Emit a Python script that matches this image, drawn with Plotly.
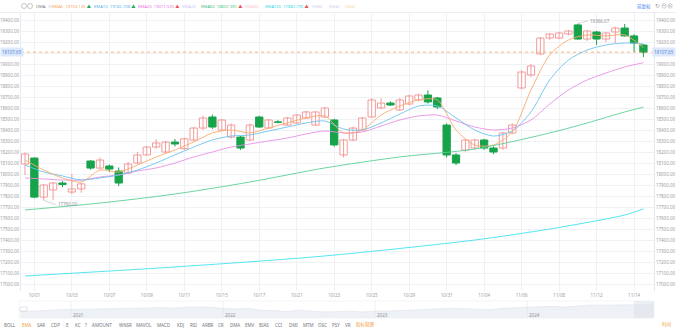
import plotly.graph_objects as go

# ---------------- price bars (two bars per session) ----------------
opens = [18091, 18145, 17790, 17855, 17918, 17836, 17864, 18118, 18054, 18073,
         18027, 18009, 18100, 18173, 18245, 18200, 18290, 18230, 18309, 18418,
         18518, 18400, 18336, 18336, 18309, 18518, 18418, 18473, 18445, 18464,
         18509, 18445, 18518, 18491, 18173, 18309, 18400, 18518, 18600, 18645,
         18582, 18636, 18673, 18718, 18691, 18445, 18173, 18218, 18236, 18309,
         18236, 18236, 18373, 18782, 18900, 19091, 19236, 19236, 19273, 19355,
         19227, 19291, 19227, 19291, 19327, 19255, 19173]
highs = [18195, 18150, 17910, 17925, 17935, 18000, 17920, 18125, 18150, 18085,
         18060, 18110, 18200, 18255, 18318, 18300, 18318, 18330, 18430, 18530,
         18540, 18500, 18460, 18345, 18460, 18530, 18500, 18490, 18520, 18545,
         18575, 18570, 18610, 18500, 18320, 18430, 18520, 18690, 18690, 18660,
         18690, 18720, 18730, 18760, 18700, 18460, 18190, 18320, 18320, 18320,
         18250, 18380, 18460, 18945, 19000, 19245, 19280, 19291, 19310, 19366.07,
         19310, 19300, 19290, 19340, 19364, 19270, 19180]
lows = [17991, 17780, 17760, 17762.15, 17880, 17815, 17830, 18040, 18040, 18020,
        17890, 18000, 18090, 18165, 18230, 18190, 18250, 18220, 18300, 18400,
        18410, 18390, 18320, 18220, 18300, 18420, 18410, 18460, 18440, 18455,
        18500, 18440, 18510, 18250, 18150, 18300, 18390, 18510, 18590, 18620,
        18575, 18625, 18660, 18640, 18590, 18150, 18080, 18200, 18220, 18220,
        18180, 18220, 18360, 18770, 18880, 19080, 19220, 19225, 19260, 19220,
        19210, 19173, 19200, 19191, 19250, 19109, 19064]
closes = [18182, 17790, 17900, 17918, 17905, 17864, 17910, 18054, 18127, 18045,
          17918, 18091, 18173, 18245, 18282, 18290, 18273, 18320, 18418, 18509,
          18427, 18491, 18445, 18236, 18445, 18427, 18491, 18470, 18509, 18536,
          18564, 18564, 18600, 18264, 18309, 18418, 18509, 18673, 18645, 18627,
          18673, 18709, 18718, 18655, 18609, 18173, 18100, 18309, 18309, 18236,
          18200, 18373, 18445, 18927, 18982, 19236, 19273, 19282, 19300, 19227,
          19300, 19227, 19282, 19327, 19255, 19191, 19107.65]
bars = list(range(len(opens)))

date_ticks = [1, 5, 9, 13, 17, 21, 25, 29, 33, 37, 41, 45, 49, 53, 57, 61, 65]
date_labels = ["10/01", "10/03", "10/07", "10/09", "10/11", "10/15", "10/17",
               "10/21", "10/23", "10/25", "10/29", "10/31", "11/04", "11/06",
               "11/08", "11/12", "11/14"]

# ---------------- moving averages ----------------
ema_bars = list(range(0, 67, 2))
ema5 = [18127, 18036, 17964, 17927, 18036, 18018, 18082, 18155, 18218, 18291,
        18373, 18400, 18373, 18418, 18464, 18509, 18527, 18373, 18400, 18536,
        18618, 18673, 18673, 18400, 18264, 18264, 18382, 18764, 19082, 19218,
        19264, 19255, 19264, 19150.135]
ema10 = [18082, 18018, 17982, 17945, 17964, 17991, 18036, 18100, 18173, 18245,
         18309, 18345, 18355, 18391, 18427, 18464, 18482, 18409, 18400, 18464,
         18545, 18618, 18618, 18509, 18400, 18345, 18391, 18564, 18855, 19036,
         19127, 19173, 19191, 19182.708]
ema20 = [17964, 17955, 17945, 17945, 17973, 17991, 18027, 18055, 18100, 18155,
         18200, 18245, 18273, 18300, 18327, 18364, 18391, 18373, 18382, 18436,
         18491, 18527, 18536, 18482, 18427, 18400, 18418, 18491, 18636, 18764,
         18855, 18918, 18973, 19011.535]
slow_bars = [0, 8, 16, 24, 32, 40, 48, 56, 60, 64, 66]
ema60 = [17673, 17736, 17818, 17927, 18055, 18155, 18227, 18373, 18464, 18564,
         18607.391]
ema120_bars = [0, 16, 32, 48, 56, 64, 66]
ema120 = [17073, 17155, 17255, 17400, 17500, 17627, 17682.795]

price_ticks = list(range(17000, 19401, 100))
last_price = 19107.65

# ---------------- overview strip (monthly, 2020-09 .. 2024-11) ----------------
nav_values = [11100, 11300, 12000, 12900,
              13100, 13200, 13200, 13900, 13700, 14500, 14700, 15200, 14500, 15500, 15900, 15600,
              14200, 13700, 14200, 12300, 12000, 11000, 12400, 11800, 10600, 10900, 11400, 10500,
              11600, 11500, 12200, 12200, 12900, 13800, 14300, 14000, 13200, 12900, 14200, 15000,
              15200, 16000, 16400, 15700, 16700, 17700, 17600, 17700, 18200, 18100, 19100]
nav_idx = list(range(len(nav_values)))
year_pos = [4, 16, 28, 40]
year_labels = ["2021", "2022", "2023", "2024"]

W, H = 676, 333
def px(x):
    return x / W
def py(y):
    return (H - y) / H

GRID = "#eff1f4"
AXIS_TXT = "#9a9ea6"
FS = 4.5
UP, DOWN = "#f29b9b", "#17a34a"

fig = go.Figure()

# wicks first so hollow bodies cover them
for keep, col in [(lambda o, c: c >= o, UP), (lambda o, c: c < o, DOWN)]:
    wx, wy = [], []
    for k, o, h, l, c in zip(bars, opens, highs, lows, closes):
        if keep(o, c):
            wx += [k, k, None]
            wy += [l, h, None]
    fig.add_trace(go.Scatter(x=wx, y=wy, mode="lines", line=dict(color=col, width=1),
                             showlegend=False, hoverinfo="skip", xaxis="x", yaxis="y"))

# candle bodies
for keep, fill, col in [(lambda o, c: c >= o, "#ffffff", UP), (lambda o, c: c < o, DOWN, DOWN)]:
    bx, bb, bh = [], [], []
    for k, o, c in zip(bars, opens, closes):
        if keep(o, c):
            bx.append(k)
            bb.append(min(o, c))
            bh.append(max(abs(c - o), 4))
    fig.add_trace(go.Bar(x=bx, y=bh, base=bb, width=0.78,
                         marker=dict(color=fill, line=dict(color=col, width=1)),
                         showlegend=False, hoverinfo="skip", xaxis="x", yaxis="y"))

for xs, ys, col in [(ema_bars, ema20, "#ea8fe4"), (ema_bars, ema10, "#6cc4ee"),
                    (ema_bars, ema5, "#f8ac6c"), (slow_bars, ema60, "#5ccf96"),
                    (ema120_bars, ema120, "#3fe3ef")]:
    fig.add_trace(go.Scatter(x=xs, y=ys, mode="lines",
                             line=dict(color=col, width=0.9, shape="spline", smoothing=0.8),
                             showlegend=False, hoverinfo="skip", xaxis="x", yaxis="y"))

# right-hand price axis carrier
fig.add_trace(go.Scatter(x=[bars[0]], y=[closes[0]], mode="markers", marker=dict(opacity=0),
                         showlegend=False, hoverinfo="skip", xaxis="x", yaxis="y2"))

# overview strip
fig.add_trace(go.Scatter(x=nav_idx, y=nav_values, mode="lines", fill="tozeroy",
                         line=dict(color="#dfe3ea", width=0.6), fillcolor="#eef1f5",
                         showlegend=False, hoverinfo="skip", xaxis="x3", yaxis="y3"))

y_top, y_bot = 13, 291
p_per_px = 100 / 11
yr = [19400 - (y_bot - 20) * p_per_px, 19400 + (20 - y_top) * p_per_px]
x_left, x_right = 21, 654
bar_px = 9.37
xr = [-(25 - x_left) / bar_px, -(25 - x_left) / bar_px + (x_right - x_left) / bar_px]

# the tick sitting under the last-price tag is left blank
ytick_txt = ["" if abs(v - last_price) < 40 else f"{v:.2f}" for v in price_ticks]

fig.update_layout(
    width=W, height=H, margin=dict(l=0, r=0, t=0, b=0),
    paper_bgcolor="white", plot_bgcolor="white", barmode="overlay",
    font=dict(family="Noto Sans, Noto Sans CJK SC, sans-serif", size=FS, color=AXIS_TXT),
    xaxis=dict(domain=[px(x_left), px(x_right)], range=xr, tickmode="array",
               tickvals=date_ticks, ticktext=date_labels, showgrid=True, gridcolor=GRID,
               gridwidth=1, zeroline=False, showline=False, ticks="", tickfont=dict(size=FS),
               anchor="y", fixedrange=True),
    yaxis=dict(domain=[py(y_bot), py(y_top)], range=yr, tickmode="array",
               tickvals=price_ticks, ticktext=ytick_txt, showgrid=True, gridcolor=GRID,
               zeroline=False, showline=True, linecolor="#e6e8ec", linewidth=1, ticks="",
               side="left", tickfont=dict(size=FS), fixedrange=True),
    yaxis2=dict(overlaying="y", range=yr, tickmode="array", tickvals=price_ticks,
                ticktext=ytick_txt, showgrid=False, zeroline=False, showline=True,
                linecolor="#e6e8ec", linewidth=1, side="right", anchor="x",
                tickfont=dict(size=FS), fixedrange=True),
    xaxis3=dict(domain=[px(19), px(654)], range=[-0.1, 50.0], visible=False,
                anchor="y3", fixedrange=True),
    yaxis3=dict(domain=[py(318), py(301)], range=[4300, 21900], visible=False,
                anchor="x3", fixedrange=True),
    showlegend=False,
)

shapes = []
annos = []

# header separator
shapes.append(dict(type="line", xref="paper", yref="paper", x0=0, x1=1,
                   y0=py(12.5), y1=py(12.5), line=dict(color="#eceef1", width=1)))

# last price line and tags
shapes.append(dict(type="line", xref="x domain", yref="y", x0=0, x1=1,
                   y0=last_price, y1=last_price,
                   line=dict(color="#f6a35a", width=0.8, dash="dot")))
for xp, anc in [(0, "left"), (1, "right")]:
    annos.append(dict(xref="paper", yref="y", x=xp, y=last_price, text=f"{last_price:.2f}",
                      showarrow=False, xanchor=anc, yanchor="middle",
                      font=dict(size=FS, color="#4f86d9"), bgcolor="#dde9fb", borderpad=1))

# extreme markers
annos.append(dict(xref="x", yref="y", x=highs.index(max(highs)), y=max(highs),
                  text=f"{max(highs):.2f}", showarrow=True, arrowhead=0, arrowwidth=0.6,
                  arrowcolor="#b5b9c0", ax=10, ay=-3, xanchor="left",
                  font=dict(size=FS, color="#8d9199")))
annos.append(dict(xref="x", yref="y", x=lows.index(min(lows)), y=min(lows),
                  text=f"{min(lows):.2f}", showarrow=True, arrowhead=0, arrowwidth=0.6,
                  arrowcolor="#b5b9c0", ax=12, ay=4, xanchor="left",
                  font=dict(size=FS, color="#8d9199")))

# header legend
HFS = 4.2
hy = py(6)
shapes.append(dict(type="circle", xref="paper", yref="paper", x0=px(21.5), x1=px(26.5),
                   y0=py(8.5), y1=py(3.5), line=dict(color="#9aa0a8", width=0.6)))
shapes.append(dict(type="circle", xref="paper", yref="paper", x0=px(27.5), x1=px(32.5),
                   y0=py(8.5), y1=py(3.5), line=dict(color="#9aa0a8", width=0.6)))
def grp(name, val, col, arrow_col):
    s = f"<span style='color:{col}'>{name}</span>"
    if val:
        s += f"  <span style='color:{col}'>{val}</span> <span style='color:{arrow_col}'>▲</span>"
    return s
header = [
    (34, "<span style='color:#7d828a'>DMA</span>  <span style='color:#9aa0a8'>∨</span>"),
    (50, grp("EMA5", "19150.135", "#f7a35c", "#21a65a")),
    (92, grp("EMA10", "19182.708", "#5bb8ea", "#21a65a")),
    (136, grp("EMA20", "19011.535", "#e676de", "#ee5555")),
    (180, grp("EMA30", "", "#cfc8f2", "")),
    (199, grp("EMA60", "18607.391", "#45c084", "#ee5555")),
    (243, grp("EMA90", "", "#f6c8d2", "")),
    (263, grp("EMA120", "17682.795", "#2fd8e6", "#ee5555")),
    (310, grp("EMA?", "", "#cfd6ee", "")),
    (327, grp("EMA1", "", "#d8d0f4", "")),
    (343, grp("EMA1", "", "#f6dcb8", "")),
]
for x, t in header:
    annos.append(dict(xref="paper", yref="paper", x=px(x), y=hy, text=t, showarrow=False,
                      xanchor="left", yanchor="middle", font=dict(size=HFS)))
annos.append(dict(xref="paper", yref="paper", x=px(653), y=hy, text="前复权", showarrow=False,
                  xanchor="right", yanchor="middle", font=dict(size=FS, color="#3d7cf2")))
for x, t in [(657, "↻"), (663.5, "⊖"), (670, "⊗")]:
    annos.append(dict(xref="paper", yref="paper", x=px(x), y=hy, text=t, showarrow=False,
                      xanchor="center", yanchor="middle", font=dict(size=6, color="#9aa0a8")))

# overview strip decorations
shapes.append(dict(type="rect", xref="paper", yref="paper", x0=px(19), x1=px(654),
                   y0=py(318), y1=py(301), line=dict(color="#e9ecf0", width=0.6)))
shapes.append(dict(type="rect", xref="paper", yref="paper", x0=px(634), x1=px(654),
                   y0=py(318), y1=py(301), fillcolor="#dfe4eb", opacity=0.6,
                   line=dict(width=0)))
shapes.append(dict(type="rect", xref="paper", yref="paper", x0=px(20), x1=px(27),
                   y0=py(311), y1=py(307), fillcolor="#ffffff",
                   line=dict(color="#c4c9d0", width=0.5)))
for xp in year_pos:
    shapes.append(dict(type="line", xref="x3", yref="paper", x0=xp, x1=xp,
                       y0=py(318), y1=py(301), line=dict(color="#e3e6ea", width=0.6)))
for xp, t in zip(year_pos, year_labels):
    annos.append(dict(xref="x3", yref="paper", x=xp, y=py(315), text=t, showarrow=False,
                      xanchor="left", yanchor="middle", font=dict(size=FS, color="#8d9199")))

# indicator buttons
buttons = [(10, "BOLL"), (27, "EMA"), (41, "SAR"), (55, "CDP"), (67, "E"), (78, "KC"),
           (86, "?"), (102, "AMOUNT"), (125, "WNSR"), (144, "MAVOL"), (164, "MACD"),
           (180, "KDJ"), (193, "RSI"), (208, "ARBR"), (221, "CR"), (235, "DMA"),
           (250, "EMV"), (264, "BIAS"), (279, "CCI"), (293, "DMI"), (308, "MTM"),
           (322, "OSC"), (336, "PSY"), (348, "VR"), (365, "指标管理")]
for x, t in buttons:
    col = "#f59a3c" if t in ("EMA", "指标管理") else "#6f747c"
    annos.append(dict(xref="paper", yref="paper", x=px(x), y=py(324.5), text=t,
                      showarrow=False, xanchor="center", yanchor="middle",
                      font=dict(size=FS, color=col)))
annos.append(dict(xref="paper", yref="paper", x=px(667), y=py(324.5), text="时间",
                  showarrow=False, xanchor="center", yanchor="middle",
                  font=dict(size=FS, color="#f59a3c")))
for x in (92, 357):
    shapes.append(dict(type="line", xref="paper", yref="paper", x0=px(x), x1=px(x),
                       y0=py(327), y1=py(322), line=dict(color="#dfe2e6", width=0.6)))

fig.update_layout(shapes=shapes, annotations=annos)
fig.write_html("out.html")
